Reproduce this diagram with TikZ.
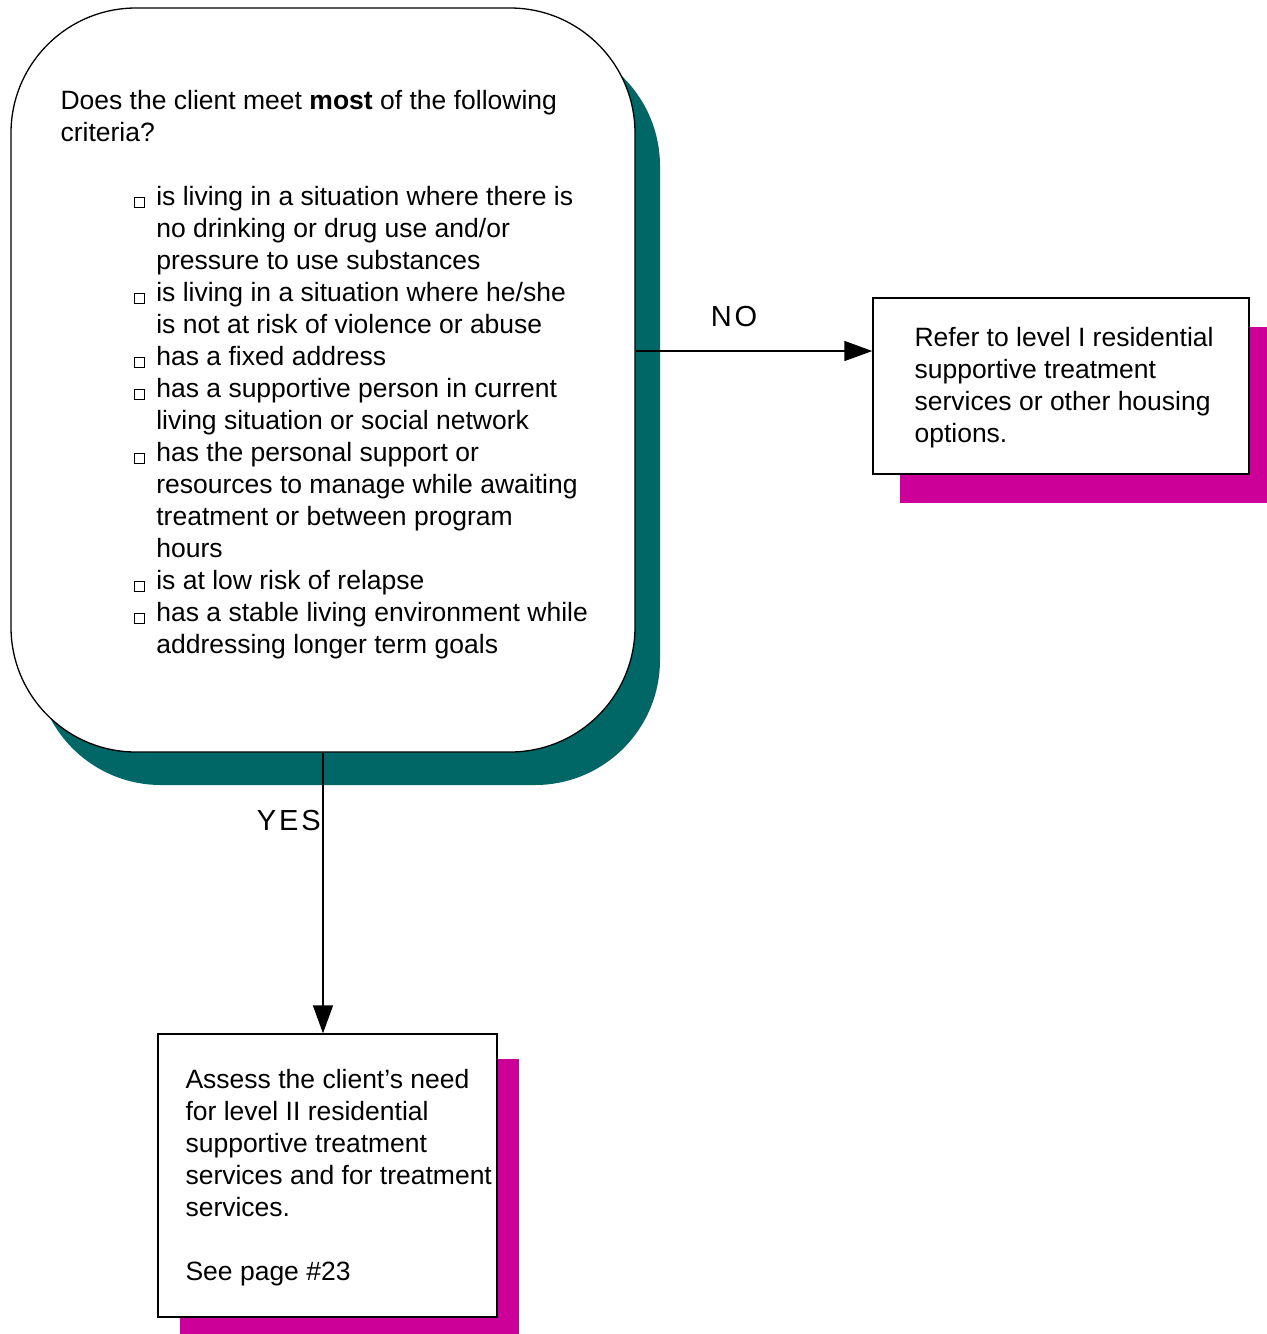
\documentclass[tikz,border=0pt]{standalone}
\usepackage{fontspec}
\setmainfont{Liberation Sans}
\usetikzlibrary{positioning}
\usetikzlibrary{arrows.meta, shadows}

\definecolor{shadowteal}{RGB}{0,102,102}
\definecolor{shadowpink}{RGB}{204,0,153}

% small square in front of each criterion
\newcommand{\chkbox}{{\setlength{\fboxsep}{0pt}\setlength{\fboxrule}{1.4pt}%
  \raisebox{-1pt}{\fbox{\rule{0pt}{8.5pt}\hspace{9pt}}}}}

\begin{document}
\begin{tikzpicture}[x=1pt,y=-1pt]

 \tikzset{
 	bodytext/.style={inner sep=0pt, anchor=north west,
 		font=\fontsize{26.5}{32}\selectfont},
 	answer/.style={inner sep=0pt,
 		font=\fontsize{29}{34}\selectfont\addfontfeature{LetterSpace=10}},
 	plainbox/.style 2 args={draw, line width=1.3pt, fill=white,
 		drop shadow={shadow xshift=#1, shadow yshift=#2, opacity=1, fill=shadowpink}},
 	flow/.style={line width=1.3pt, -{Triangle[length=28pt,width=20pt]}}
 }
 \useasboundingbox (0,0) rectangle (1267,1334);

 % question box
 \node[draw, line width=1.3pt, fill=white, rounded corners=125pt,
 	minimum width=624pt, minimum height=744pt, inner sep=0pt,
 	drop shadow={shadow xshift=25pt, shadow yshift=-33pt, opacity=1, fill=shadowteal}]
 	(ask) at (323,380) {};

 \node[bodytext] (ques) at ([shift={(50,80)}]ask.north west) {%
 	\begin{tabular}{@{}l@{}}
 		Does the client meet \textbf{most} of the following\\
 		criteria?
 	\end{tabular}};

 \node[bodytext] (crit) at ([shift={(123,176)}]ask.north west) {%
 	\begin{tabular}{@{}l@{\hspace{11pt}}l@{}}
 		\chkbox & is living in a situation where there is\\
 		& no drinking or drug use and/or\\
 		& pressure to use substances\\
 		\chkbox & is living in a situation where he/she\\
 		& is not at risk of violence or abuse\\
 		\chkbox & has a fixed address\\
 		\chkbox & has a supportive person in current\\
 		& living situation or social network\\
 		\chkbox & has the personal support or\\
 		& resources to manage while awaiting\\
 		& treatment or between program\\
 		& hours\\
 		\chkbox & is at low risk of relapse\\
 		\chkbox & has a stable living environment while\\
 		& addressing longer term goals
 	\end{tabular}};

 % outcome boxes
 \node[plainbox={27pt}{-29pt}, minimum width=376pt, minimum height=176pt]
 	(nobox) at (1061,386) {};
 \node[bodytext] (notext) at ([shift={(42,27)}]nobox.north west) {%
 	\begin{tabular}{@{}l@{}}
 		Refer to level I residential\\
 		supportive treatment\\
 		services or other housing\\
 		options.
 	\end{tabular}};

 \node[plainbox={22pt}{-25pt}, minimum width=339pt, minimum height=283pt]
 	(yesbox) at (327.5,1175.5) {};
 \node[bodytext] (yestext) at ([shift={(28,33)}]yesbox.north west) {%
 	\begin{tabular}{@{}l@{}}
 		Assess the client’s need\\
 		for level II residential\\
 		supportive treatment\\
 		services and for treatment\\
 		services.\\
 		\\
 		See page \#23
 	\end{tabular}};

 % connectors
 \coordinate (noline) at (0,351);
 \draw[flow] (ask.east |- noline) -- (nobox.west |- noline);
 \draw[flow] (ask.south) -- (ask.south |- yesbox.north);

 \node[answer, anchor=base] (nolabel) at (734,326.5) {NO};
 \node[answer, anchor=base east] (yeslabel) at (321,830.5) {YES};

\end{tikzpicture}
\end{document}
